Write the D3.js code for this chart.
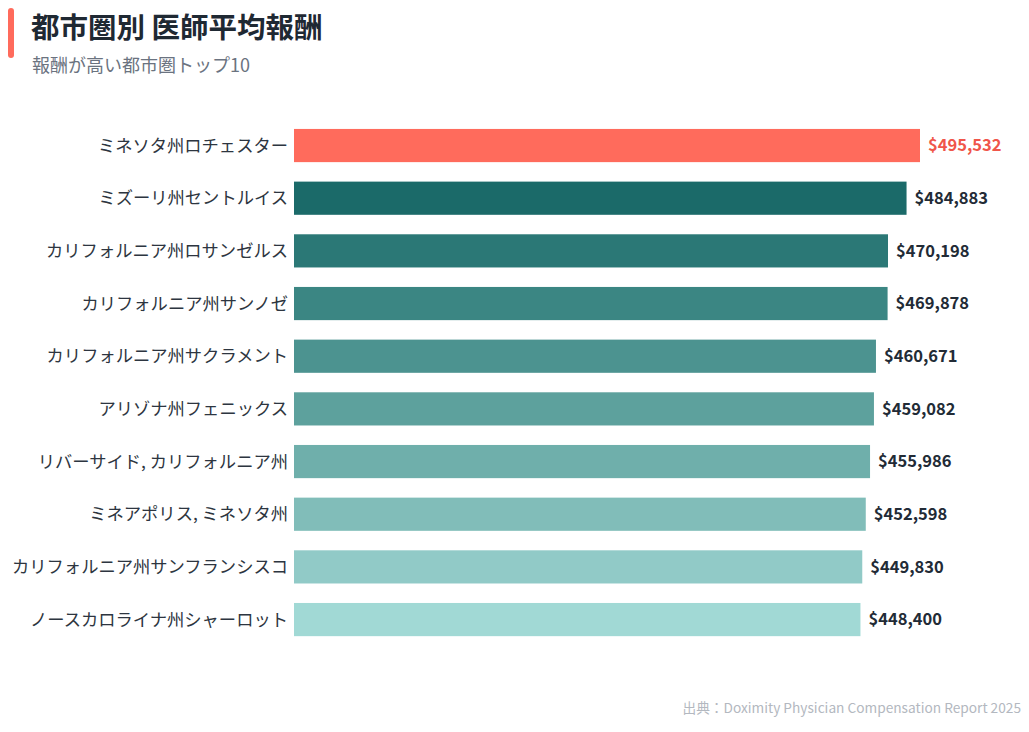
<!DOCTYPE html>
<html>
<head>
<meta charset="utf-8">
<script src="https://cdn.jsdelivr.net/npm/d3@7"></script>
<style>
  body { margin: 0; background: #fff; }
  text { font-family: "Noto Sans CJK JP", "Noto Sans", sans-serif; }
</style>
</head>
<body>
<div id="chart"></div>
<script>
// data
var cities = [
    "ミネソタ州ロチェスター",
    "ミズーリ州セントルイス",
    "カリフォルニア州ロサンゼルス",
    "カリフォルニア州サンノゼ",
    "カリフォルニア州サクラメント",
    "アリゾナ州フェニックス",
    "リバーサイド, カリフォルニア州",
    "ミネアポリス, ミネソタ州",
    "カリフォルニア州サンフランシスコ",
    "ノースカロライナ州シャーロット"
];
var salaries = [495532, 484883, 470198, 469878, 460671, 459082, 455986, 452598, 449830, 448400];
var barColors = ["#ff6b5c", "#1b6a69", "#2b7876", "#3b8683", "#4c9390", "#5da19d", "#6fafab", "#81bdb9", "#91cac7", "#a1d9d5"];

var svgWidth = 1029;
var svgHeight = 732;

var svg = d3.select("#chart")
    .append("svg")
    .attr("width", svgWidth)
    .attr("height", svgHeight);

// title block
svg.append("rect")
    .attr("x", 8).attr("y", 8)
    .attr("width", 6).attr("height", 50)
    .attr("rx", 3)
    .attr("fill", "#ff6b5c");

svg.append("text")
    .attr("x", 31).attr("y", 38)
    .attr("font-size", 28.5)
    .attr("font-weight", 700)
    .attr("fill", "#1f2933")
    .text("都市圏別 医師平均報酬");

svg.append("text")
    .attr("x", 32).attr("y", 72)
    .attr("font-size", 18)
    .attr("fill", "#6b7380")
    .text("報酬が高い都市圏トップ10");

// scales
var xScale = d3.scaleLinear()
    .domain([0, d3.max(salaries)])
    .range([294, 920]);

var yScale = d3.scaleBand()
    .domain(cities)
    .range([119.2, 645.9])
    .paddingInner(0.37)
    .paddingOuter(0.185);

var rows = cities.map(function(c, i) {
    return { city: c, value: salaries[i], color: barColors[i], idx: i };
});

// bars
svg.selectAll("rect.bar")
    .data(rows)
    .enter()
    .append("rect")
    .attr("class", "bar")
    .attr("x", xScale(0))
    .attr("y", d => yScale(d.city))
    .attr("width", d => xScale(d.value) - xScale(0))
    .attr("height", yScale.bandwidth())
    .attr("fill", d => d.color);

// category labels
svg.selectAll("text.cat")
    .data(rows)
    .enter()
    .append("text")
    .attr("class", "cat")
    .attr("x", 288)
    .attr("y", d => yScale(d.city) + yScale.bandwidth() / 2)
    .attr("dy", "0.35em")
    .attr("text-anchor", "end")
    .attr("font-size", 17.3)
    .attr("fill", "#2d3540")
    .text(d => d.city);

// value labels
var fmt = d3.format(",");
svg.selectAll("text.val")
    .data(rows)
    .enter()
    .append("text")
    .attr("class", "val")
    .attr("x", d => xScale(d.value) + 8)
    .attr("y", d => yScale(d.city) + yScale.bandwidth() / 2)
    .attr("dy", "0.35em")
    .attr("font-size", 16.5)
    .attr("font-weight", 700)
    .attr("fill", d => d.idx === 0 ? "#f0564a" : "#222b36")
    .text(d => "$" + fmt(d.value));

// source
svg.append("text")
    .attr("x", 1021).attr("y", 713)
    .attr("text-anchor", "end")
    .attr("font-size", 13.7)
    .attr("fill", "#b3b8c0")
    .text("出典：Doximity Physician Compensation Report 2025");
</script>
</body>
</html>
